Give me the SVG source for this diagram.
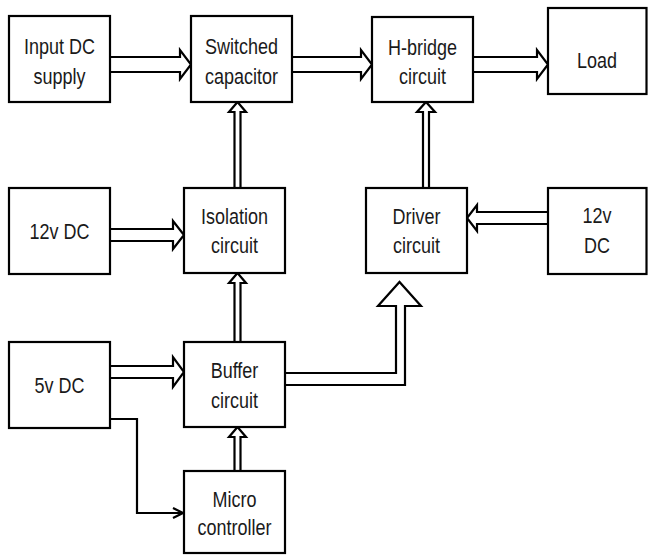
<svg xmlns="http://www.w3.org/2000/svg" width="648" height="555" viewBox="0 0 648 555">
<defs>
<style>
.box{fill:#fff;stroke:#000;stroke-width:2.2}
.blk{fill:#fff;stroke:#000;stroke-width:2.2;stroke-linejoin:miter}
.thin{fill:none;stroke:#000;stroke-width:2.2}
text{font-family:"Liberation Sans",Arial,sans-serif;font-size:18px;fill:#1a1a1a;text-anchor:middle}
</style>
<marker id="ah" viewBox="0 0 12 12" refX="11" refY="6" markerWidth="12" markerHeight="12" markerUnits="userSpaceOnUse" orient="auto">
<path d="M1,1 L11,6 L1,11" fill="none" stroke="#000" stroke-width="2.2"/>
</marker>
</defs>
<rect width="648" height="555" fill="#fff"/>
<g id="connectors">
<path class="blk" d="M110,57 H180 V50 L191,64.5 L180,79 V72 H110"/>
<path class="blk" d="M292,57 H361 V50 L372,64.5 L361,79 V72 H292"/>
<path class="blk" d="M473,57 H537 V50 L548,64.5 L537,79 V72 H473"/>
<path class="blk" d="M110,229 H173 V221 L184,235 L173,249 V241 H110"/>
<path class="blk" d="M548,212 H477 V205 L467,218 L477,231 V224 H548"/>
<path class="blk" d="M110,366 H173 V357 L184,372 L173,387 V378 H110"/>
<path class="blk" d="M234.5,188 V112 H229 L237.5,102 L246,112 H240.5 V188"/>
<path class="blk" d="M234.5,342 V283 H229 L237.5,273 L246,283 H240.5 V342"/>
<path class="blk" d="M234.5,471 V437 H229 L237.5,427 L246,437 H240.5 V471"/>
<path class="blk" d="M423,188 V112 H417 L426,102 L435,112 H429 V188"/>
<path class="blk" d="M285,373 H396 V306 H378 L399.5,282 L421,306 H405 V385 H285"/>
<path class="thin" d="M110,419 H137 V513 H183" marker-end="url(#ah)"/>
</g>
<g id="input-dc"><rect class="box" x="9" y="16" width="101" height="86"/>
<text transform="translate(59.5,54) scale(1,1.26)">Input DC</text>
<text transform="translate(59.5,84) scale(1,1.26)">supply</text></g>
<g id="switched-capacitor"><rect class="box" x="191" y="16" width="101" height="86"/>
<text transform="translate(241.5,54) scale(1,1.26)">Switched</text>
<text transform="translate(241.5,84) scale(1,1.26)">capacitor</text></g>
<g id="h-bridge"><rect class="box" x="372" y="17" width="101" height="85"/>
<text transform="translate(422.5,55) scale(1,1.26)">H-bridge</text>
<text transform="translate(422.5,84) scale(1,1.26)">circuit</text></g>
<g id="load"><rect class="box" x="548" y="8" width="98.5" height="86"/>
<text transform="translate(597,68) scale(1,1.26)">Load</text></g>
<g id="dc12-left"><rect class="box" x="9" y="188" width="101" height="86"/>
<text transform="translate(59.5,239) scale(1,1.26)">12v DC</text></g>
<g id="isolation"><rect class="box" x="184" y="188" width="101" height="85"/>
<text transform="translate(234.5,224) scale(1,1.26)">Isolation</text>
<text transform="translate(234.5,253) scale(1,1.26)">circuit</text></g>
<g id="driver"><rect class="box" x="366" y="188" width="101" height="85"/>
<text transform="translate(416.5,224) scale(1,1.26)">Driver</text>
<text transform="translate(416.5,253) scale(1,1.26)">circuit</text></g>
<g id="dc12-right"><rect class="box" x="548" y="188" width="98.5" height="86"/>
<text transform="translate(597,223) scale(1,1.26)">12v</text>
<text transform="translate(597,253) scale(1,1.26)">DC</text></g>
<g id="dc5"><rect class="box" x="9" y="342" width="101" height="86"/>
<text transform="translate(59.5,393) scale(1,1.26)">5v DC</text></g>
<g id="buffer"><rect class="box" x="184" y="342" width="101" height="85"/>
<text transform="translate(234.5,378) scale(1,1.26)">Buffer</text>
<text transform="translate(234.5,408) scale(1,1.26)">circuit</text></g>
<g id="micro"><rect class="box" x="184" y="471" width="101" height="82"/>
<text transform="translate(234.5,507) scale(1,1.26)">Micro</text>
<text transform="translate(234.5,535) scale(1,1.26)">controller</text></g>
</svg>
